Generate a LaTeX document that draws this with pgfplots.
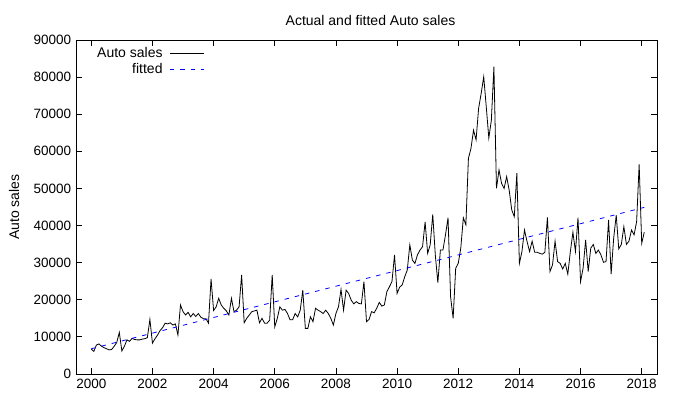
\documentclass[border=0pt]{standalone}
\usepackage{pgfplots}
\pgfplotsset{compat=1.18}
\usepackage{pgfplotstable}
\usepackage{fontspec}
\setmainfont{Liberation Sans}
\pgfplotstableread{
v
6700
6100
7800
8100
7500
7100
6800
6500
6600
7500
8500
11200
6200
7500
9200
8800
9600
9300
9200
9200
9400
9500
9800
14700
8300
9500
10500
11700
12500
13700
13500
13800
13200
13500
10500
18600
16800
15900
16600
15400
16300
15500
16300
15300
14900
14900
13700
25600
17100
18100
20400
18600
17700
17000
15900
20400
16800
17200
18100
26700
13800
15000
15900
16800
17000
17200
13800
15000
13700
13700
14500
26700
12700
15000
18100
17200
17400
16300
14600
14600
16300
15400
17200
22600
12300
12300
15400
14100
17700
17200
16800
16300
17200
16300
15000
13200
16300
18100
22800
17200
22600
21700
19900
18900
19500
19000
18900
24900
14100
14700
16800
16500
17700
19300
18300
18600
22200
23500
24900
32100
21700
23400
24000
26200
28000
34800
30700
29800
32100
33400
34300
41000
32500
34800
43000
32100
24600
33400
33400
37500
42100
20800
15000
28500
29800
33900
42100
40200
58100
60800
65700
63100
71600
75600
80100
72000
63600
68400
82800
50000
55000
51400
50000
53200
49500
44200
42400
54100
29800
33000
38800
35700
33000
35800
32800
32800
32500
32300
32800
42200
27600
29400
35800
30300
29800
28300
29800
26900
33000
38200
33000
42100
24900
28500
36100
27600
33900
34900
32500
33400
32100
30100
30300
41500
26900
36600
42800
33700
34900
39700
34900
35800
38800
37500
41000
56500
35200
38200
}\autodata
\begin{document}
\fontsize{14bp}{16bp}\selectfont
\begin{tikzpicture}
\useasboundingbox (-76bp,-26bp) rectangle (604bp,374bp);
\begin{axis}[
  at={(0,0)}, anchor=south west,
  scale only axis, width=581bp, height=334bp,
  xmin=1999.5, xmax=2018.5, ymin=0, ymax=90000,
  xtick={2000,2002,...,2018},
  ytick={0,10000,...,90000},
  scaled y ticks=false,
  /pgf/number format/assume math mode=true,
  /pgf/number format/1000 sep={},
  tick align=inside, major tick length=6bp,
  tick style={black, line width=0.8bp},
  axis line style={line width=0.8bp},
  tick label style={font=\fontsize{13.5bp}{15bp}\selectfont},
  title={Actual and fitted Auto sales},
  title style={font=\fontsize{14bp}{16bp}\selectfont, at={(axis description cs:0.5,1)}, anchor=center, yshift=14bp, xshift=4bp},
  ylabel={Auto sales},
  ylabel style={font=\fontsize{14bp}{16bp}\selectfont, at={(axis description cs:0,0.5)}, anchor=center, yshift=62bp},
  legend cell align=right,
  legend plot pos=right,
  legend style={draw=none, fill=none, at={(axis description cs:0,1)}, anchor=north west, xshift=16bp, yshift=-3bp,
     font=\fontsize{14bp}{16bp}\selectfont, row sep=0bp, nodes={inner sep=2bp}},
  legend image code/.code={\path (0bp,0bp); \draw[#1] (5bp,0bp) -- (39bp,0bp);},
]
\addplot[black, line width=0.8bp] table[x expr={2000+\coordindex/12}, y=v] {\autodata};
\addlegendentry{Auto sales}
\addplot[blue, line width=0.8bp, dash pattern=on 4.5bp off 6bp] coordinates {(2000,6800) (2018.083,44900)};
\addlegendentry{fitted}
\end{axis}
\end{tikzpicture}
\end{document}
